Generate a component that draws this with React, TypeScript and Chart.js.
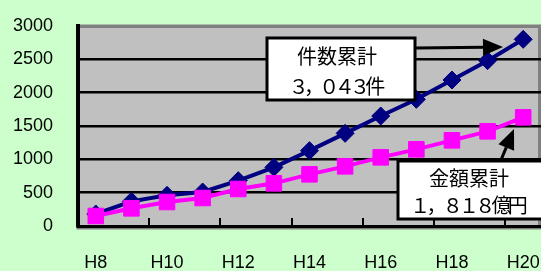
import React, { useEffect, useRef } from 'react';
import { Chart, registerables } from 'chart.js';

Chart.register(...registerables);

const categories = ['H8', 'H9', 'H10', 'H11', 'H12', 'H13', 'H14', 'H15', 'H16', 'H17', 'H18', 'H19', 'H20'];
const casesCumulative = [180, 370, 460, 510, 680, 880, 1130, 1390, 1650, 1900, 2190, 2480, 2800];
const amountCumulative = [150, 265, 360, 420, 555, 640, 775, 895, 1030, 1150, 1285, 1420, 1630];
const yMin = 0;
const yMax = 3000;
const yStep = 500;
const caseNote = ['件数累計', '３，０４３件'];
const amountNote = ['金額累計', '１，８１８億円'];

const BG = '#CCFFCC';
const PLOT = '#C0C0C0';
const NAVY = '#000080';
const PINK = '#FF00FF';
const CJK = '"Noto Sans CJK JP", "Noto Sans CJK SC", sans-serif';
const LATIN = '"Liberation Sans", Arial, sans-serif';

function drawNote(ctx: CanvasRenderingContext2D, lines: string[], cx: number, ys: number[], widths: number[]) {
  ctx.save();
  ctx.font = `20px ${CJK}`;
  ctx.textAlign = 'center';
  ctx.textBaseline = 'middle';
  ctx.fillStyle = '#000';
  lines.forEach((t, i) => {
    (ctx as any).letterSpacing = '0px';
    const w = ctx.measureText(t).width;
    const ls = (widths[i] - w) / Array.from(t).length;
    (ctx as any).letterSpacing = `${ls}px`;
    ctx.fillText(t, cx + ls / 2, ys[i]);
  });
  (ctx as any).letterSpacing = '0px';
  ctx.restore();
}

function drawArrow(ctx: CanvasRenderingContext2D, x1: number, y1: number, x2: number, y2: number) {
  const ang = Math.atan2(y2 - y1, x2 - x1);
  const hl = 20;
  const hw = 8.5;
  const bx = x2 - Math.cos(ang) * hl;
  const by = y2 - Math.sin(ang) * hl;
  ctx.save();
  ctx.strokeStyle = '#000';
  ctx.fillStyle = '#000';
  ctx.lineWidth = 3;
  ctx.beginPath();
  ctx.moveTo(x1, y1);
  ctx.lineTo(bx, by);
  ctx.stroke();
  ctx.beginPath();
  ctx.moveTo(x2, y2);
  ctx.lineTo(bx + Math.sin(ang) * hw, by - Math.cos(ang) * hw);
  ctx.lineTo(bx - Math.sin(ang) * hw, by + Math.cos(ang) * hw);
  ctx.closePath();
  ctx.fill();
  ctx.restore();
}

const backgroundPlugin = {
  id: 'bgPlot',
  beforeDraw(chart: any) {
    const { ctx, chartArea: a, width, height } = chart;
    ctx.save();
    ctx.fillStyle = BG;
    ctx.fillRect(0, 0, width, height);
    ctx.fillStyle = PLOT;
    ctx.fillRect(a.left, a.top, a.right - a.left, a.bottom - a.top);
    ctx.strokeStyle = '#808080';
    ctx.lineWidth = 3;
    ctx.strokeRect(a.left, a.top, a.right - a.left - 1.5, a.bottom + 2 - a.top);
    ctx.restore();
  },
};

const notesPlugin = {
  id: 'notes',
  afterDatasetsDraw(chart: any) {
    const ctx: CanvasRenderingContext2D = chart.ctx;
    ctx.save();
    ctx.fillStyle = '#fff';
    ctx.strokeStyle = '#000';
    ctx.lineWidth = 3;
    ctx.fillRect(267, 38, 148, 62);
    ctx.strokeRect(267, 38, 148, 62);
    ctx.fillRect(398, 161, 150, 58);
    ctx.strokeRect(398, 161, 150, 58);
    ctx.restore();
    drawNote(ctx, caseNote, 337, [56, 86], [80, 92]);
    drawNote(ctx, amountNote, 469, [178, 205], [80, 114]);
    drawArrow(ctx, 416, 48, 503, 47);
    drawArrow(ctx, 501, 160, 514, 129);
  },
};

export default function App() {
  const ref = useRef<HTMLCanvasElement | null>(null);
  useEffect(() => {
    if (!ref.current) return;
    const chart = new Chart(ref.current, {
      type: 'line',
      data: {
        labels: categories,
        datasets: [
          {
            label: '件数累計',
            data: casesCumulative,
            borderColor: NAVY,
            backgroundColor: NAVY,
            borderWidth: 4,
            pointStyle: 'rectRot',
            pointRadius: 9,
            pointBorderWidth: 1,
            pointBackgroundColor: NAVY,
            pointBorderColor: NAVY,
            tension: 0,
            order: 2,
            clip: false,
          },
          {
            label: '金額累計',
            data: amountCumulative,
            borderColor: PINK,
            backgroundColor: PINK,
            borderWidth: 4,
            pointStyle: 'rect',
            pointRadius: 11,
            pointBorderWidth: 1,
            pointBackgroundColor: PINK,
            pointBorderColor: PINK,
            tension: 0,
            order: 1,
            clip: false,
          },
        ],
      },
      options: {
        responsive: false,
        animation: false,
        devicePixelRatio: 1,
        layout: { autoPadding: false, padding: { top: 26, left: 0, right: 0, bottom: 0 } },
        plugins: { legend: { display: false }, tooltip: { enabled: false } },
        scales: {
          x: {
            type: 'category',
            offset: true,
            afterFit: (s: any) => {
              s.height = 45;
              s.paddingLeft = 0;
              s.paddingRight = 0;
              s.paddingTop = 0;
              s.paddingBottom = 0;
            },
            grid: {
              offset: true,
              drawOnChartArea: false,
              drawTicks: true,
              tickLength: -8,
              lineWidth: 2,
              color: (c: any) => (c.index % 2 === 0 ? '#000' : 'rgba(0,0,0,0)'),
            },
            border: { display: true, color: '#000', width: 3 },
            ticks: {
              autoSkip: false,
              maxRotation: 0,
              padding: 34,
              color: '#000',
              font: { family: LATIN, size: 18 },
              callback: (_v: any, i: number) => (i % 2 === 0 ? categories[i] : ''),
            },
          },
          y: {
            min: yMin,
            max: yMax,
            afterFit: (s: any) => {
              s.width = 78;
              s.paddingTop = 0;
              s.paddingBottom = 0;
              s.paddingLeft = 0;
              s.paddingRight = 0;
            },
            grid: {
              drawTicks: false,
              lineWidth: (c: any) => (c.tick && c.tick.value === yMax ? 3 : 2.5),
              color: (c: any) => (c.tick && c.tick.value === yMax ? '#808080' : '#000'),
            },
            border: { display: true, color: '#000', width: 4 },
            ticks: {
              stepSize: yStep,
              padding: 25,
              color: '#000',
              font: { family: LATIN, size: 18 },
              callback: (v: any) => String(v),
            },
          },
        },
      },
      plugins: [backgroundPlugin, notesPlugin],
    });
    return () => chart.destroy();
  }, []);
  return (
    <div style={{ position: 'fixed', left: 0, top: 0, width: 541, height: 271, overflow: 'hidden' }}>
      <canvas ref={ref} width={541} height={271} />
    </div>
  );
}
